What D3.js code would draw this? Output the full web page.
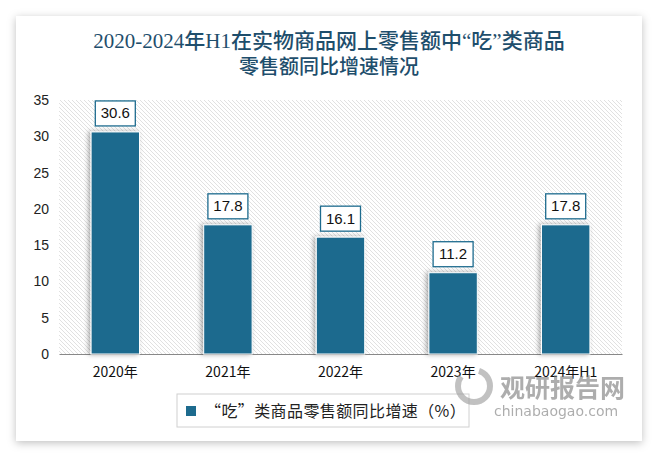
<!DOCTYPE html>
<html>
  <head>
    <meta charset=utf-8 />
    <title>吃类商品零售额同比增速</title>
    <script src="https://cdnjs.cloudflare.com/ajax/libs/d3/7.8.5/d3.min.js"></script>
    <style>
      body { margin: 0; background: #fff; }
      svg { display: block; }
    </style>
  </head>
  <body>
    <div id="main-container"></div>
    <script>

  var years = ["2020年", "2021年", "2022年", "2023年", "2024年H1"];
  var growth = [30.6, 17.8, 16.1, 11.2, 17.8];
  var yTicks = [0, 5, 10, 15, 20, 25, 30, 35];
  var titleLines = ["2020-2024年H1在实物商品网上零售额中“吃”类商品", "零售额同比增速情况"];
  var legendLabel = "“吃”类商品零售额同比增速（%）";

  var outerWidth = 659;
  var outerHeight = 456;
  var barColor = "#1d6b8e";
  var titleColor = "#1e4e6c";
  var cjk = "'Noto Sans CJK SC', 'Liberation Sans', sans-serif";

  var plot = {left: 59, right: 622, top: 100, bottom: 354};

  var svg = d3.select('#main-container').append('svg')
    .attr('width', outerWidth)
    .attr('height', outerHeight);

  var defs = svg.append('defs');
  var shadow = defs.append('filter').attr('id', 'cardShadow')
    .attr('x', '-10%').attr('y', '-10%').attr('width', '120%').attr('height', '120%');
  shadow.append('feDropShadow').attr('dx', 0).attr('dy', 2).attr('stdDeviation', 4)
    .attr('flood-color', '#000').attr('flood-opacity', 0.25);

  var barShadow = defs.append('filter').attr('id', 'barShadow')
    .attr('x', '-30%').attr('y', '-10%').attr('width', '160%').attr('height', '120%');
  barShadow.append('feDropShadow').attr('dx', -2).attr('dy', 0).attr('stdDeviation', 2.5)
    .attr('flood-color', '#000').attr('flood-opacity', 0.35);

  var hatch = defs.append('pattern').attr('id', 'hatch')
    .attr('patternUnits', 'userSpaceOnUse')
    .attr('width', 4).attr('height', 4);
  hatch.append('rect').attr('width', 4).attr('height', 4).attr('fill', '#fff');
  hatch.append('path').attr('d', 'M-1,-1 L5,5 M3,-1 L5,1 M-1,3 L1,5')
    .attr('stroke', '#dedede').attr('stroke-width', 0.9);

  // card
  svg.append('rect')
    .attr('x', 16).attr('y', 16).attr('width', 626).attr('height', 425)
    .attr('fill', '#fff').attr('filter', 'url(#cardShadow)');

  // title
  svg.append('g').selectAll('text').data(titleLines).enter().append('text')
    .attr('x', 329).attr('y', function(d, i){ return 48 + i * 26; })
    .attr('text-anchor', 'middle')
    .attr('font-family', "'Liberation Serif', 'Noto Sans CJK SC', serif")
    .attr('font-size', function(d, i){ return i == 0 ? 21 : 20; })
    .attr('font-weight', 500)
    .attr('fill', titleColor)
    .text(function(d){ return d; });

  var xScale = d3.scaleBand().domain(years).range([plot.left, plot.right]).paddingInner(0.57).paddingOuter(0.285);
  var yScale = d3.scaleLinear().domain([0, 35]).range([plot.bottom, plot.top]);

  svg.append('rect')
    .attr('x', plot.left).attr('y', plot.top)
    .attr('width', plot.right - plot.left).attr('height', plot.bottom - plot.top)
    .attr('fill', 'url(#hatch)');

  var yAxis = svg.append('g')
    .attr('transform', 'translate(' + plot.left + ',0)')
    .call(d3.axisLeft(yScale).tickValues(yTicks).tickSize(0).tickPadding(10));
  yAxis.select('.domain').remove();
  yAxis.selectAll('text')
    .attr('font-family', "'Liberation Sans', 'Noto Sans', sans-serif")
    .attr('font-size', 14).attr('fill', '#222');

  var xAxis = svg.append('g')
    .attr('transform', 'translate(0,' + plot.bottom + ')')
    .call(d3.axisBottom(xScale).tickSize(0).tickPadding(13));
  xAxis.select('.domain').attr('stroke', '#888').attr('stroke-width', 1.2);
  xAxis.selectAll('text')
    .attr('font-family', cjk)
    .attr('font-size', 14).attr('fill', '#111');

  svg.append('g').selectAll('rect').data(growth).enter().append('rect')
    .attr('x', function(d, i){ return xScale(years[i]); })
    .attr('y', function(d){ return yScale(d); })
    .attr('width', xScale.bandwidth())
    .attr('height', function(d){ return plot.bottom - yScale(d); })
    .attr('fill', barColor)
    .attr('stroke', '#fff').attr('stroke-width', 1)
    .attr('filter', 'url(#barShadow)');

  var labels = svg.append('g').selectAll('g').data(growth).enter().append('g')
    .attr('transform', function(d, i){
      return 'translate(' + (xScale(years[i]) + xScale.bandwidth() / 2) + ',' + (yScale(d) - 19) + ')';
    });
  labels.append('rect')
    .attr('x', -20).attr('y', -12).attr('width', 40).attr('height', 25)
    .attr('fill', '#fff').attr('stroke', barColor).attr('stroke-width', 1.3);
  labels.append('text')
    .attr('text-anchor', 'middle').attr('dy', '0.36em')
    .attr('font-family', "'Liberation Sans', 'Noto Sans', sans-serif")
    .attr('font-size', 15).attr('fill', '#111')
    .text(function(d){ return d.toFixed(1); });

  // legend
  var legend = svg.append('g').attr('transform', 'translate(177,394)');
  legend.append('rect').attr('width', 292).attr('height', 33)
    .attr('fill', '#fff').attr('stroke', '#d0d0d0');
  legend.append('rect').attr('x', 9).attr('y', 12).attr('width', 10).attr('height', 10).attr('fill', barColor);
  legend.append('text').attr('x', 28).attr('y', 23)
    .attr('font-family', cjk).attr('font-size', 16).attr('fill', '#222')
    .attr('letter-spacing', 0.4)
    .text(legendLabel);

  // watermark
  var wm = svg.append('g').attr('opacity', 0.6);
  wm.append('circle').attr('cx', 474).attr('cy', 386).attr('r', 16)
    .attr('fill', 'none').attr('stroke', '#999').attr('stroke-width', 6)
    .attr('stroke-dasharray', '60 20');
  wm.append('text').attr('x', 500).attr('y', 397)
    .attr('font-family', cjk).attr('font-size', 25).attr('font-weight', 'bold')
    .attr('fill', '#777').text('观研报告网');
  wm.append('text').attr('x', 494).attr('y', 416)
    .attr('font-family', "'DejaVu Sans', sans-serif").attr('font-size', 14)
    .attr('fill', '#777').text('chinabaogao.com');

</script>
  </body>
</html>
